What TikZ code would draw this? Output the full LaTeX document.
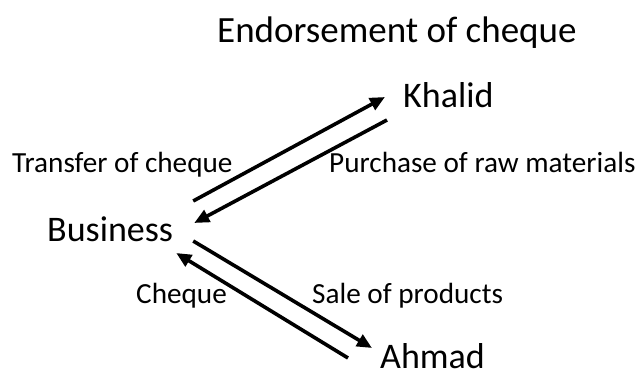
\documentclass[tikz,border=0pt]{standalone}
\usepackage{fontspec}
\setmainfont{Carlito}
\usetikzlibrary{arrows.meta}

\begin{document}
\begin{tikzpicture}[x=1pt,y=1pt,
    party/.style={inner sep=0pt,anchor=base west,font=\fontsize{36}{40}\selectfont},
    lbl/.style={inner sep=0pt,anchor=base west,font=\fontsize{29.2}{33}\selectfont},
    flow/.style={-{Triangle[length=15pt,width=13pt]},line width=3.6pt}]
      \useasboundingbox (0,0) rectangle (639,372);
      \node[party,font=\fontsize{37}{42}\selectfont] (title) at (217,329) {Endorsement of cheque};
      \node[party] (khalid) at (403,264) {Khalid};
      \node[party] (business) at (47,130) {Business};
      \node[party] (ahmad) at (380,4) {Ahmad};
      \node[lbl] (transfer) at (12,199) {Transfer of cheque};
      \node[lbl] (purchase) at (329,199) {Purchase of raw materials};
      \node[lbl] (cheque) at (136,69) {Cheque};
      \node[lbl] (sale) at (312,69) {Sale of products};
      \draw[flow] ([shift={(20,41)}]business.base east) -- ([shift={(-18,11)}]khalid.base west);
      \draw[flow] ([shift={(-16,-12)}]khalid.base west) -- ([shift={(21,19)}]business.base east);
      \draw[flow] ([shift={(20,1)}]business.base east) -- ([shift={(-8,20)}]ahmad.base west);
      \draw[flow] ([shift={(-32,10)}]ahmad.base west) -- ([shift={(3,-11)}]business.base east);
    \end{tikzpicture}
\end{document}
